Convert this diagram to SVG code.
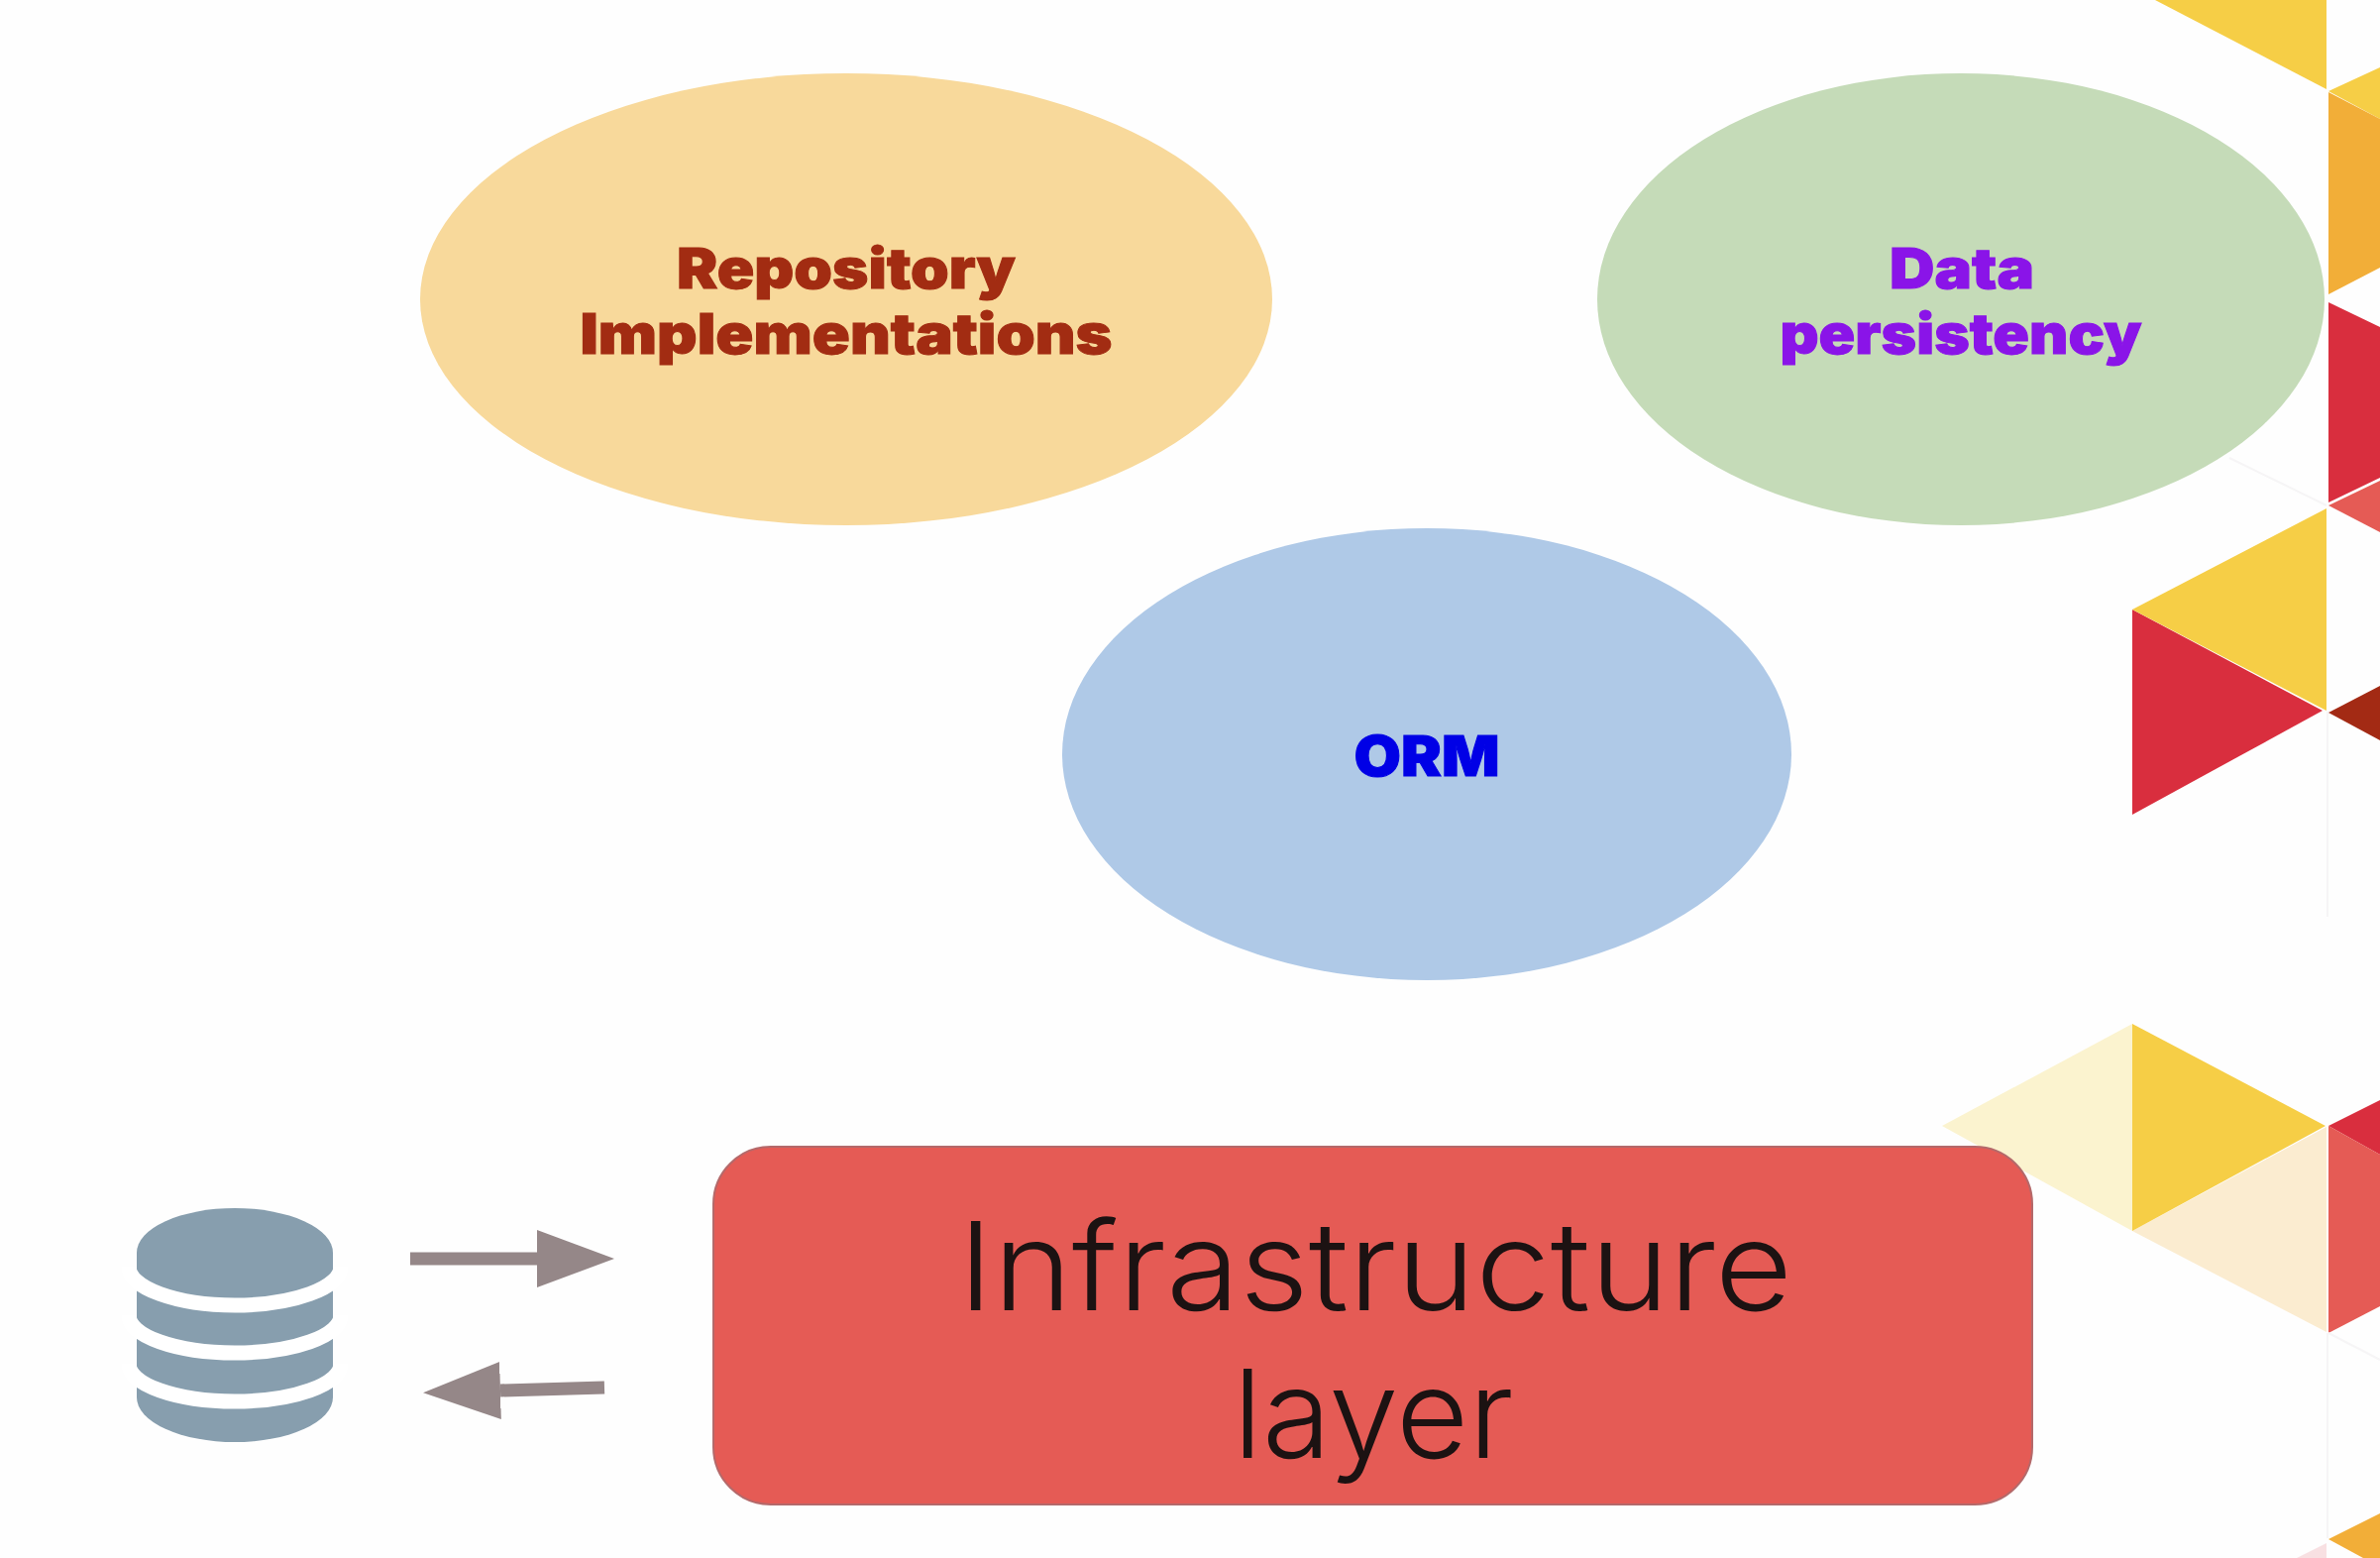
<svg xmlns="http://www.w3.org/2000/svg" width="2402" height="1572" viewBox="0 0 2402 1572">
<style>
.bold{font-family:"Inter","Liberation Sans",sans-serif;font-weight:900;font-size:56px;text-anchor:middle;stroke-width:1px}
.light{font-family:"Inter","Open Sans",sans-serif;font-weight:300;font-size:124px;text-anchor:middle;fill:#1c1212}
.arrow{stroke:#958788;stroke-width:13;fill:none}
.gap{stroke:#fff;stroke-width:15;fill:none}
</style>
<defs>
<marker id="head" markerUnits="userSpaceOnUse" markerWidth="80" markerHeight="60" refX="0" refY="29" orient="auto"><path d="M0,0L78,29L0,58Z" fill="#958788"/></marker>
</defs>
<rect width="2402" height="1572" fill="#fefefe"/>
<g id="decor">
<path d="M2175,0H2348V90Z" fill="#f6ce46"/>
<path d="M2350,92L2402,68V120Z" fill="#f6ce46"/>
<path d="M2350,93L2402,120V270L2350,297Z" fill="#f2ae38"/>
<path d="M2350,305L2402,330V482L2350,507Z" fill="#d92e3e"/>
<path d="M2350,510L2402,485V537Z" fill="#e55b55"/>
<path d="M2152,615L2344,717L2152,822Z" fill="#d92e3e"/>
<path d="M2152,615L2348,513V717Z" fill="#f6ce46"/>
<path d="M2350,719L2402,692V747Z" fill="#a32a14"/>
<path d="M1960,1136L2152,1033V1242Z" fill="#fbf3cf"/>
<path d="M2152,1242L2348,1137V1344Z" fill="#fbecd0"/>
<path d="M2152,1033L2347,1136L2152,1242Z" fill="#f6ce46"/>
<path d="M2350,1136L2402,1110V1165Z" fill="#d92e3e"/>
<path d="M2350,1136L2402,1165V1318L2350,1345Z" fill="#e55b55"/>
<path d="M2350,1553L2402,1527V1572H2385Z" fill="#f2ae38"/>
<path d="M2318,1572L2348,1557V1572Z" fill="#f8e0e2"/>
<path d="M2349,1345V1552M2350,1345L2402,1372M2349,718V925M2250,462L2348,510" stroke="#f6f5f6" stroke-width="2" fill="none"/>
</g>
<g id="repository">
<ellipse cx="854" cy="302" rx="430" ry="228" fill="#f8d99b"/>
<text class="bold" fill="#a22c12" stroke="#a22c12" x="854" y="291" textLength="342" lengthAdjust="spacingAndGlyphs">Repository</text>
<text class="bold" fill="#a22c12" stroke="#a22c12" x="854" y="357" textLength="537" lengthAdjust="spacingAndGlyphs">Implementations</text>
</g>
<g id="persistency">
<ellipse cx="1979" cy="302" rx="367" ry="228" fill="#c5dbb8"/>
<text class="bold" fill="#8a14e8" stroke="#8a14e8" x="1980" y="291" textLength="146" lengthAdjust="spacingAndGlyphs">Data</text>
<text class="bold" fill="#8a14e8" stroke="#8a14e8" x="1979" y="357" textLength="365" lengthAdjust="spacingAndGlyphs">persistency</text>
</g>
<g id="orm">
<ellipse cx="1440" cy="761" rx="368" ry="228" fill="#afc9e7"/>
<text class="bold" fill="#0000e6" stroke="#0000e6" x="1440" y="783" textLength="147" lengthAdjust="spacingAndGlyphs">ORM</text>
</g>
<g id="infrastructure">
<rect x="720" y="1157" width="1331" height="361" rx="58" fill="#e55b55" stroke="#b4696a" stroke-width="2"/>
<text class="light" x="1388" y="1322" textLength="842" lengthAdjust="spacingAndGlyphs">Infrastructure</text>
<text class="light" x="1386" y="1471" textLength="283" lengthAdjust="spacingAndGlyphs">layer</text>
</g>
<g id="database">
<path d="M138,1264A99,45 0 0 1 336,1264V1410A99,45 0 0 1 138,1410Z" fill="#879eae"/>
<path class="gap" d="M130,1278A107,39 0 0 0 344,1278"/>
<path class="gap" d="M130,1327A107,38 0 0 0 344,1327"/>
<path class="gap" d="M130,1376A107,38 0 0 0 344,1376"/>
</g>
<g id="connectors">
<path class="arrow" d="M414,1270H542" marker-end="url(#head)"/>
<path class="arrow" d="M610,1400L505,1403" marker-end="url(#head)"/>
</g>
</svg>
